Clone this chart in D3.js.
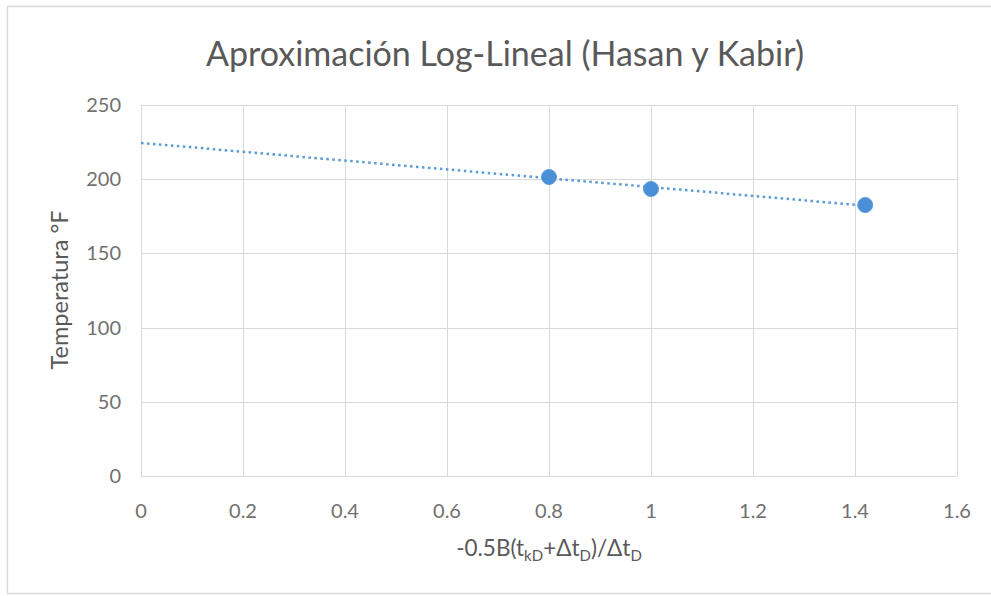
<!DOCTYPE html>
<html><head><meta charset="utf-8">
<script src="https://cdn.jsdelivr.net/npm/d3@7"></script>
<style>body{margin:0;background:#fff;} text{font-family:Lato,"Open Sans",sans-serif;}</style>
</head><body>
<svg id="c" width="991" height="596"></svg>
<script>
const xVals = [0.8, 1.0, 1.42];
const yVals = [201.5, 193.4, 182.6];
const xTicks = [0, 0.2, 0.4, 0.6, 0.8, 1, 1.2, 1.4, 1.6];
const yTicks = [0, 50, 100, 150, 200, 250];
const title = "Aproximación Log-Lineal (Hasan y Kabir)";
const yTitle = "Temperatura °F";

const svg = d3.select("#c");
svg.append("rect").attr("x",7.5).attr("y",6.5).attr("width",990).attr("height",587)
  .attr("fill","#fff").attr("stroke","#d9d9d9").attr("stroke-width",1.5);

const x = d3.scaleLinear().domain([0,1.6]).range([141,957]);
const y = d3.scaleLinear().domain([0,250]).range([476,105]);

// grid
svg.append("g").selectAll("line").data(yTicks).join("line")
  .attr("x1",x(0)).attr("x2",x(1.6)).attr("y1",d=>Math.round(y(d))+0.5).attr("y2",d=>Math.round(y(d))+0.5)
  .attr("stroke","#d9d9d9").attr("stroke-width",1);
svg.append("g").selectAll("line").data(xTicks).join("line")
  .attr("y1",y(0)).attr("y2",y(250)).attr("x1",d=>Math.round(x(d))+0.5).attr("x2",d=>Math.round(x(d))+0.5)
  .attr("stroke","#d9d9d9").attr("stroke-width",1);

// tick labels
svg.append("g").selectAll("text").data(yTicks).join("text")
  .attr("x",121).attr("y",d=>y(d)+7).attr("text-anchor","end")
  .attr("font-size",20).attr("fill","#707070").text(d=>d);
svg.append("g").selectAll("text").data(xTicks).join("text")
  .attr("x",d=>x(d)).attr("y",518).attr("text-anchor","middle")
  .attr("font-size",20).attr("fill","#707070").text(d=>d);

// trendline (least squares)
const mx = d3.mean(xVals), my = d3.mean(yVals);
const sxy = d3.sum(xVals.map((v,i)=>(v-mx)*(yVals[i]-my)));
const sxx = d3.sum(xVals.map(v=>(v-mx)*(v-mx)));
const slope = sxy/sxx, icpt = my - slope*mx;
const trendX = [0, d3.max(xVals)];
svg.append("path").attr("d", d3.line().x(d=>x(d)).y(d=>y(icpt+slope*d))(trendX))
  .attr("stroke","#5b9bd5").attr("stroke-width",2.5).attr("stroke-dasharray","2.5,3.5").attr("fill","none");

// points
svg.append("g").selectAll("circle").data(xVals).join("circle")
  .attr("cx",d=>x(d)).attr("cy",(d,i)=>y(yVals[i])).attr("r",7.5)
  .attr("fill","#4a90d9").attr("stroke","#5b9bd5").attr("stroke-width",1);

// title
svg.append("text").attr("x",505).attr("y",66).attr("text-anchor","middle")
  .attr("font-size",34).attr("fill","#595959").text(title);

// y title
svg.append("text").attr("transform","translate(68,290) rotate(-90)").attr("text-anchor","middle")
  .attr("font-size",23.5).attr("fill","#595959").text(yTitle);

// x title with subscripts
const xt = svg.append("text").attr("x",549).attr("y",556).attr("text-anchor","middle")
  .attr("font-size",22.5).attr("fill","#595959");
xt.append("tspan").text("-0.5B(t");
xt.append("tspan").attr("font-size",15).attr("dy",5).text("kD");
xt.append("tspan").attr("dy",-5).text("+Δt");
xt.append("tspan").attr("font-size",15).attr("dy",5).text("D");
xt.append("tspan").attr("dy",-5).text(")/Δt");
xt.append("tspan").attr("font-size",15).attr("dy",5).text("D");
</script>
</body></html>
